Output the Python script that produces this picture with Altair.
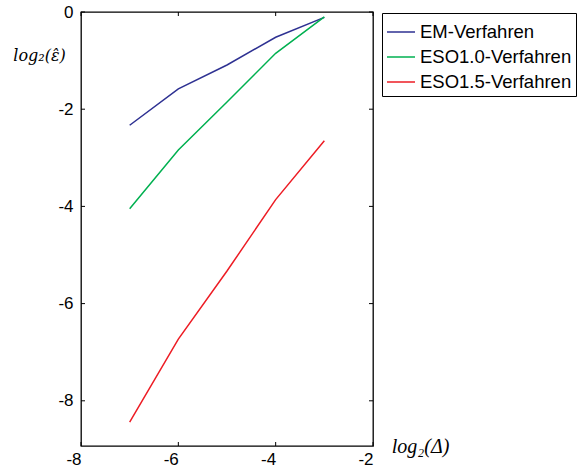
import altair as alt
import pandas as pd

x_vals = [-7, -6, -5, -4, -3]
em = [-2.33, -1.58, -1.09, -0.52, -0.11]
eso10 = [-4.05, -2.84, -1.85, -0.85, -0.10]
eso15 = [-8.44, -6.73, -5.33, -3.86, -2.65]
series = ["EM-Verfahren", "ESO1.0-Verfahren", "ESO1.5-Verfahren"]
colors = ["#2E3192", "#00B050", "#ED1C24"]
x_ticks = [-8, -6, -4, -2]
y_ticks = [0, -2, -4, -6, -8]

rows = []
for name, vals in zip(series, [em, eso10, eso15]):
    for xv, yv in zip(x_vals, vals):
        rows.append({"x": xv, "y": yv, "s": name})
df = pd.DataFrame(rows)

W, H = 292, 434
xs = alt.Scale(domain=[-8, -2], nice=False, zero=False)
ys = alt.Scale(domain=[-8.93, 0], nice=False, zero=False)

lines = alt.Chart(df).mark_line(strokeWidth=1.5).encode(
    x=alt.X("x:Q", scale=xs, axis=alt.Axis(
        values=x_ticks, ticks=False, domain=False, grid=False,
        labelExpr="'' + datum.value", labelFont="Liberation Sans",
        labelFontSize=17, labelColor="#000", labelPadding=5,
        labelAlign="right",
        title="log₂(Δ)", titleFont="Liberation Serif", titleFontStyle="italic",
        titleFontWeight="normal", titleFontSize=20, titleColor="#000",
        titleX=339, titleY=0, titleAlign="center", titleBaseline="middle")),
    y=alt.Y("y:Q", scale=ys, axis=alt.Axis(
        values=y_ticks, ticks=False, domain=False, grid=False,
        labelExpr="'' + datum.value", labelFont="Liberation Sans",
        labelFontSize=17, labelColor="#000", labelPadding=8,
        title="log₂(ε̂)", titleFont="DejaVu Serif", titleFontStyle="italic",
        titleFontWeight="normal", titleFontSize=16, titleColor="#000",
        titleAngle=0, titleX=-42, titleY=43, titleAlign="center", titleBaseline="middle")),
    color=alt.Color("s:N", scale=alt.Scale(domain=series, range=colors), legend=alt.Legend(
        title=None, orient="none", legendX=301, legendY=1,
        symbolType="stroke", symbolSize=784, symbolStrokeWidth=1.5,
        labelFont="Liberation Sans", labelFontSize=18.5, labelColor="#000",
        labelOffset=4, rowPadding=-3.5, padding=4,
        strokeColor="#000", fillColor="#fff")),
)

xt = pd.DataFrame({"t": x_ticks})
yt = pd.DataFrame({"t": y_ticks})
tick_style = dict(color="#000", strokeWidth=1)
xb = alt.Chart(xt).mark_rule(**tick_style).encode(x=alt.X("t:Q", scale=xs), y=alt.value(H), y2=alt.value(H - 4))
xtop = alt.Chart(xt).mark_rule(**tick_style).encode(x=alt.X("t:Q", scale=xs), y=alt.value(0), y2=alt.value(4))
yl = alt.Chart(yt).mark_rule(**tick_style).encode(y=alt.Y("t:Q", scale=ys), x=alt.value(0), x2=alt.value(4))
yr = alt.Chart(yt).mark_rule(**tick_style).encode(y=alt.Y("t:Q", scale=ys), x=alt.value(W), x2=alt.value(W - 4))

chart = alt.layer(lines, xb, xtop, yl, yr).properties(
    width=W, height=H,
    background="#fff",
    autosize=alt.AutoSizeParams(type="none"),
    padding={"left": 81, "top": 12, "right": 577 - 81 - W, "bottom": 469 - 12 - H},
).configure_view(stroke="#000", strokeWidth=1.3)

chart.save("out.html", embed_options={"renderer": "svg", "actions": False})
